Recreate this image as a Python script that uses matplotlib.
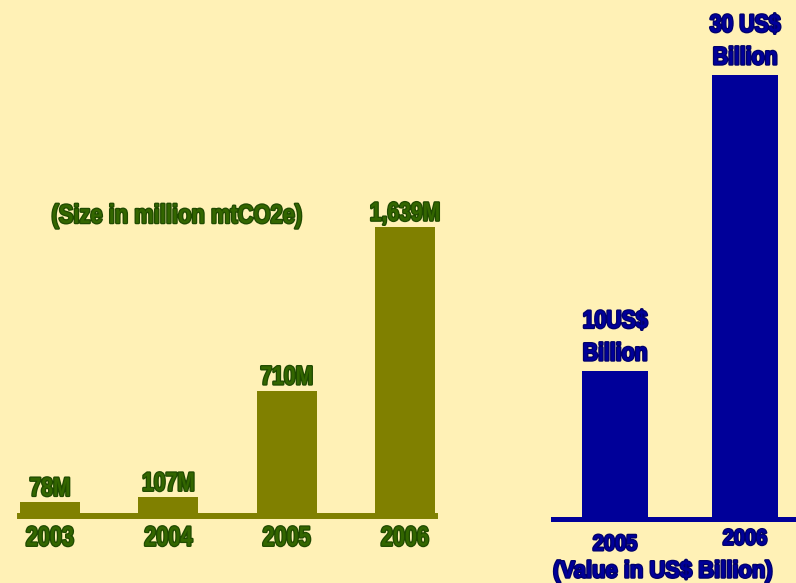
import matplotlib

matplotlib.use("Agg")
import matplotlib.pyplot as plt
import matplotlib.patheffects as pe
from matplotlib import font_manager
from matplotlib.transforms import Affine2D


# Carbon market size (million tCO2e) per year
size_years = ["2003", "2004", "2005", "2006"]
size_values = [78, 107, 710, 1639]
size_labels = ["78M", "107M", "710M", "1,639M"]

# Carbon market value (US$ billion) per year
value_years = ["2005", "2006"]
value_values = [10, 30]
value_labels = ["10US$\nBillion", "30 US$\nBillion"]

BG = "#FFF1B6"
OLIVE = "#808000"
GREEN = "#336600"
GREEN_EDGE = "#1F4A00"
NAVY = "#000099"
NAVY_EDGE = "#00006A"

W, H = 796, 583


def pick_font():
    # Prefer a narrow bold face, fall back to the regular one
    for name in ["Liberation Sans Narrow", "Arial Narrow", "Liberation Sans"]:
        try:
            font_manager.findfont(font_manager.FontProperties(family=name), fallback_to_default=False)
            return name
        except ValueError:
            continue
    return "DejaVu Sans"


FONT = pick_font()


class Condensed(pe.AbstractPathEffect):
    """Squeeze glyphs horizontally about the line centre, then draw outline + fill."""

    def __init__(self, sx, edge, lw=1.8):
        super().__init__()
        self.sx = sx
        self.edge = edge
        self.lw = lw

    def draw_path(self, renderer, gc, tpath, affine, rgbFace=None):
        ext = tpath.get_extents()
        cx = 0.5 * (ext.x0 + ext.x1)
        squeeze = Affine2D().translate(-cx, 0).scale(self.sx, 1).translate(cx, 0)
        path = squeeze.transform_path(tpath)
        gc0 = renderer.new_gc()
        gc0.copy_properties(gc)
        gc0.set_linewidth(self.lw)
        gc0.set_foreground(self.edge)
        renderer.draw_path(gc0, path, affine)
        gc0.restore()
        renderer.draw_path(gc, path, affine, rgbFace)


def style(size, sx, color, edge):
    return dict(fontsize=size, fontweight="bold", family=FONT, color=color,
                path_effects=[Condensed(sx, edge)])


def px_axes(fig, x0, x1, y_top, y_bottom):
    # Axes placed from pixel coordinates (origin at top-left)
    ax = fig.add_axes([x0 / W, (H - y_bottom) / H, (x1 - x0) / W, (y_bottom - y_top) / H])
    ax.set_facecolor("none")
    for s in ax.spines.values():
        s.set_visible(False)
    ax.tick_params(left=False, labelleft=False, length=0)
    return ax


fig = plt.figure(figsize=(W / 100, H / 100), dpi=100, facecolor=BG)

# Left panel: market size
ax1 = px_axes(fig, 20, 435, 227, 516)
ax1.bar(range(len(size_values)), size_values, width=0.507, color=OLIVE)
ax1.set_xlim(-0.2535, len(size_values) - 1 + 0.2535)
ax1.set_ylim(0, max(size_values))
ax1.axhline(0, color=OLIVE, linewidth=4.3, clip_on=False)
ax1.set_xticks(range(len(size_years)))
ax1.set_xticklabels(size_years, **style(20, 0.78, GREEN, GREEN_EDGE))
ax1.tick_params(axis="x", pad=7)
for i, (v, lab) in enumerate(zip(size_values, size_labels)):
    ax1.annotate(lab, (i, v), xytext=(0, 1), textcoords="offset points", ha="center", va="bottom",
                 annotation_clip=False, **style(19, 0.8, GREEN, GREEN_EDGE))
fig.text(177 / W, 1 - 216 / H, "(Size in million mtCO2e)", ha="center", va="center",
         **style(19, 0.83, GREEN, GREEN_EDGE))

# Right panel: market value
ax2 = px_axes(fig, 553, 796, 75, 519)
ax2.bar(range(len(value_values)), value_values, width=0.508, color=NAVY)
ax2.set_xlim(-0.477, len(value_values) - 1 + 0.392)
ax2.set_ylim(0, max(value_values))
ax2.axhline(0, color=NAVY, linewidth=3.6, clip_on=False)
ax2.set_xticks(range(len(value_years)))
ax2.set_xticklabels(value_years, **style(16, 0.9, NAVY, NAVY_EDGE))
ticks = ax2.xaxis.get_major_ticks()
ticks[0].set_pad(11)
ticks[1].set_pad(7)
for i, (v, lab) in enumerate(zip(value_values, value_labels)):
    ax2.annotate(lab, (i, v), xytext=(0, 4), textcoords="offset points", ha="center", va="bottom",
                 linespacing=1.45, annotation_clip=False, **style(18, 0.85, NAVY, NAVY_EDGE))
fig.text(663 / W, 1 - 571 / H, "(Value in US$ Billion)", ha="center", va="center",
         **style(17, 0.93, NAVY, NAVY_EDGE))

fig.savefig("out.png", dpi=100, facecolor=BG)
